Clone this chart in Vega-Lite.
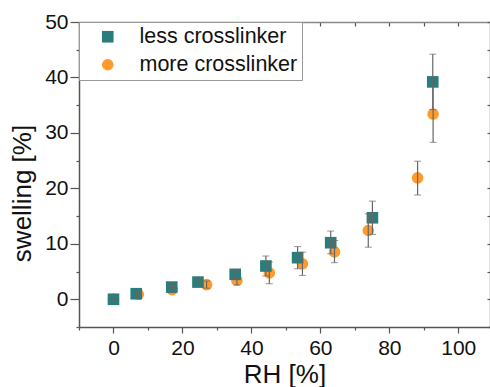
{
  "$schema": "https://vega.github.io/schema/vega-lite/v6.json",
  "autosize": "none",
  "padding": {"left": 79, "top": 22, "right": 0, "bottom": 60},
  "width": 411,
  "height": 305,
  "background": "white",
  "config": {
    "view": {"stroke": null},
    "font": "Liberation Sans",
    "axis": {
      "labelFont": "Liberation Sans",
      "titleFont": "Liberation Sans",
      "labelColor": "#111",
      "titleColor": "#111",
      "labelFontSize": 21,
      "titleFontSize": 26,
      "titleFontWeight": "normal",
      "grid": false,
      "domainColor": "#555",
      "domainWidth": 1.5,
      "tickColor": "#555",
      "tickWidth": 1.2
    }
  },
  "data": {
    "values": [
      {"series": "more crosslinker", "rh": 0, "sw": 0.0, "lo": -0.4, "hi": 0.4},
      {"series": "more crosslinker", "rh": 7.2, "sw": 0.9, "lo": 0.4, "hi": 1.4},
      {"series": "more crosslinker", "rh": 17, "sw": 1.75, "lo": 1.2, "hi": 2.3},
      {"series": "more crosslinker", "rh": 27, "sw": 2.65, "lo": 2.0, "hi": 3.3},
      {"series": "more crosslinker", "rh": 35.8, "sw": 3.4, "lo": 2.6, "hi": 4.2},
      {"series": "more crosslinker", "rh": 45.2, "sw": 4.75, "lo": 2.8, "hi": 6.7},
      {"series": "more crosslinker", "rh": 54.8, "sw": 6.4, "lo": 4.3, "hi": 8.5},
      {"series": "more crosslinker", "rh": 64.1, "sw": 8.55, "lo": 6.6, "hi": 10.6},
      {"series": "more crosslinker", "rh": 73.9, "sw": 12.4, "lo": 9.4, "hi": 15.4},
      {"series": "more crosslinker", "rh": 88.2, "sw": 21.9, "lo": 18.8, "hi": 24.9},
      {"series": "more crosslinker", "rh": 92.7, "sw": 33.4, "lo": 28.3, "hi": 38.5},
      {"series": "less crosslinker", "rh": 0, "sw": 0.0, "lo": -0.3, "hi": 0.3},
      {"series": "less crosslinker", "rh": 6.6, "sw": 1.0, "lo": 0.6, "hi": 1.4},
      {"series": "less crosslinker", "rh": 16.9, "sw": 2.2, "lo": 1.7, "hi": 2.7},
      {"series": "less crosslinker", "rh": 24.5, "sw": 3.1, "lo": 2.5, "hi": 3.7},
      {"series": "less crosslinker", "rh": 35.3, "sw": 4.5, "lo": 3.8, "hi": 5.2},
      {"series": "less crosslinker", "rh": 44.2, "sw": 6.0, "lo": 4.2, "hi": 7.8},
      {"series": "less crosslinker", "rh": 53.4, "sw": 7.5, "lo": 5.5, "hi": 9.5},
      {"series": "less crosslinker", "rh": 63.0, "sw": 10.2, "lo": 8.2, "hi": 12.3},
      {"series": "less crosslinker", "rh": 75.1, "sw": 14.7, "lo": 11.7, "hi": 17.7},
      {"series": "less crosslinker", "rh": 92.6, "sw": 39.2, "lo": 34.2, "hi": 44.2}
    ]
  },
  "resolve": {"axis": {"x": "independent", "y": "independent"}},
  "layer": [
    {
      "mark": {"type": "point", "filled": true, "opacity": 1, "size": 135, "strokeWidth": 0},
      "encoding": {
        "x": {
          "field": "rh", "type": "quantitative",
          "scale": {"domain": [-10, 109.2], "nice": false, "zero": false},
          "axis": {
            "title": "RH [%]",
            "values": [-10, 0, 10, 20, 30, 40, 50, 60, 70, 80, 90, 100],
            "labelExpr": "datum.value % 20 === 0 ? datum.label : ''",
            "tickSize": {"condition": {"test": "datum.value % 20 === 0", "value": 6}, "value": 3},
            "labelPadding": 4,
            "titlePadding": 3
          }
        },
        "y": {
          "field": "sw", "type": "quantitative",
          "scale": {"domain": [-5, 50], "nice": false, "zero": false},
          "axis": {
            "title": "swelling [%]",
            "values": [-5, 0, 5, 10, 15, 20, 25, 30, 35, 40, 45, 50],
            "labelExpr": "datum.value % 10 === 0 ? datum.label : ''",
            "tickSize": {"condition": {"test": "datum.value % 10 === 0", "value": 9}, "value": 3},
            "labelPadding": 2,
            "titlePadding": 9,
            "titleY": 171
          }
        },
        "color": {
          "field": "series", "type": "nominal",
          "scale": {"domain": ["less crosslinker", "more crosslinker"], "range": ["#2a7d7a", "#ff9a2e"]},
          "legend": {
            "title": null,
            "orient": "none",
            "legendX": 0,
            "legendY": 0,
            "padding": 4,
            "symbolOffset": 14,
            "labelOffset": 21,
            "rowPadding": 5,
            "labelFont": "Liberation Sans",
            "labelFontSize": 21.5,
            "labelColor": "#111",
            "symbolSize": 135,
            "symbolStrokeWidth": 0,
            "strokeColor": "#999",
            "fillColor": "white",
            "labelLimit": 400
          }
        },
        "shape": {
          "field": "series", "type": "nominal",
          "scale": {"domain": ["less crosslinker", "more crosslinker"], "range": ["square", "circle"]}
        }
      }
    },
    {
      "mark": {"type": "rule", "color": "#666", "strokeWidth": 1.2},
      "encoding": {
        "x": {"field": "rh", "type": "quantitative", "axis": null},
        "y": {"field": "lo", "type": "quantitative", "axis": null},
        "y2": {"field": "hi"}
      }
    },
    {
      "mark": {"type": "tick", "orient": "horizontal", "color": "#666", "size": 7, "thickness": 1},
      "encoding": {
        "x": {"field": "rh", "type": "quantitative", "axis": null},
        "y": {"field": "lo", "type": "quantitative", "axis": null}
      }
    },
    {
      "mark": {"type": "tick", "orient": "horizontal", "color": "#666", "size": 7, "thickness": 1},
      "encoding": {
        "x": {"field": "rh", "type": "quantitative", "axis": null},
        "y": {"field": "hi", "type": "quantitative", "axis": null}
      }
    },
    {
      "mark": {"type": "point", "opacity": 0},
      "encoding": {
        "x": {
          "field": "rh", "type": "quantitative",
          "axis": {
            "orient": "top", "title": null, "labels": false,
            "values": [-10, 0, 10, 20, 30, 40, 50, 60, 70, 80, 90, 100],
            "tickSize": -4, "domainColor": "#888", "tickColor": "#555"
          }
        },
        "y": {
          "field": "sw", "type": "quantitative",
          "axis": {
            "orient": "right", "title": null, "labels": false,
            "values": [-5, 0, 5, 10, 15, 20, 25, 30, 35, 40, 45, 50],
            "tickSize": -3, "domainColor": "#888", "tickColor": "#555"
          }
        }
      }
    }
  ]
}
